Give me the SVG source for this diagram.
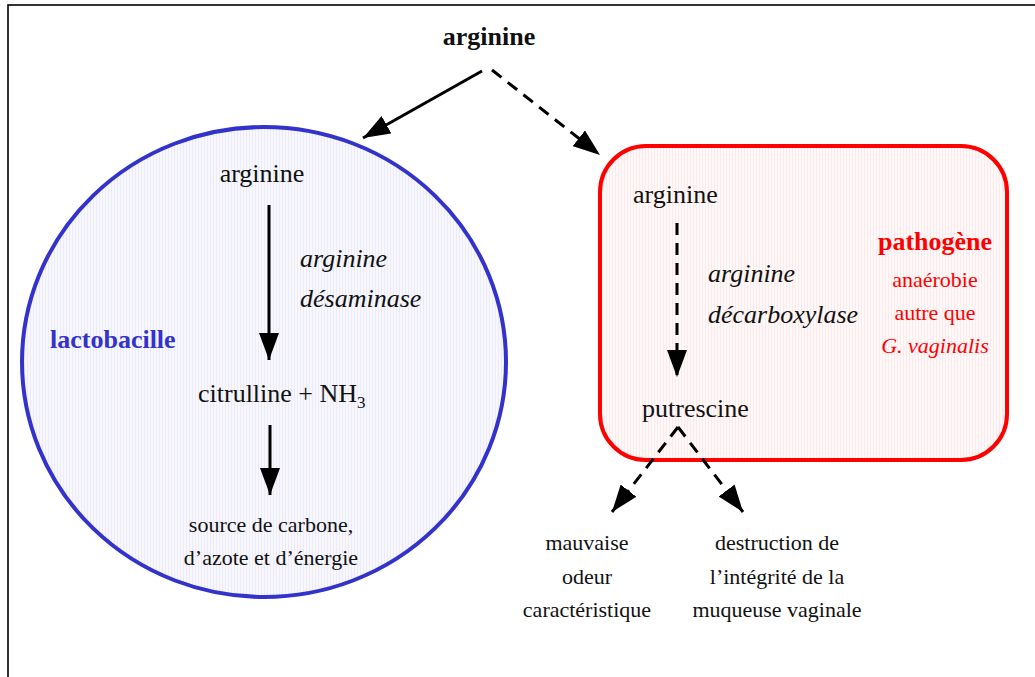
<svg xmlns="http://www.w3.org/2000/svg" width="1035" height="677" viewBox="0 0 1035 677">
  <style>
    text { font-family: "Liberation Serif", "Times New Roman", serif; fill: #111; }
    .t26 { font-size: 26px; }
    .t22 { font-size: 22px; }
    .it { font-style: italic; }
    .b { font-weight: bold; }
    .mid { text-anchor: middle; }
    .red { fill: #FF0000; }
    .blue { fill: #3333CC; }
    .solid { stroke: #000; stroke-width: 3; fill: none; }
    .dash { stroke: #000; stroke-width: 3; fill: none; stroke-dasharray: 12 8; }
  </style>
  <defs>
    <pattern id="stripeBlue" width="3" height="10" patternUnits="userSpaceOnUse">
      <rect width="3" height="10" fill="#F7F7FD"/>
      <rect width="1" height="10" fill="#ECECF8"/>
    </pattern>
    <pattern id="stripeRed" width="3" height="10" patternUnits="userSpaceOnUse">
      <rect width="3" height="10" fill="#FFF8F8"/>
      <rect width="1" height="10" fill="#FDEBEB"/>
    </pattern>
    <marker id="head" viewBox="0 0 27 20" refX="27" refY="10" markerWidth="27" markerHeight="20" markerUnits="userSpaceOnUse" orient="auto">
      <path d="M0,0 L27,10 L0,20 Z" fill="#000"/>
    </marker>
  </defs>

  <rect width="1035" height="677" fill="#fff"/>
  <!-- page frame -->
  <rect x="8" y="5" width="1040" height="690" fill="none" stroke="#000" stroke-width="1.6"/>

  <!-- lactobacillus pathway -->
  <g id="lactobacille">
    <ellipse cx="264" cy="362" rx="242" ry="235" fill="url(#stripeBlue)" stroke="#3333CC" stroke-width="4"/>
    <text class="t26 b blue" x="50" y="348">lactobacille</text>
  </g>

  <!-- pathogen pathway -->
  <g id="pathogene">
    <rect x="600" y="146" width="407" height="314" rx="46" ry="46" fill="url(#stripeRed)" stroke="#FF0000" stroke-width="4"/>
    <text class="t26 b red mid" x="935" y="250">pathogène</text>
    <text class="t22 red mid" x="935" y="287">anaérobie</text>
    <text class="t22 red mid" x="935" y="320">autre que</text>
    <text class="t22 red mid it" x="935" y="353">G. vaginalis</text>
  </g>

  <g id="arginine-top">
    <text class="t26 b mid" x="489" y="45">arginine</text>
  </g>

  <g id="arginine-lacto">
    <text class="t26 mid" x="262" y="182">arginine</text>
  </g>
  <g id="enzyme-lacto">
    <text class="t26 it" x="300" y="267">arginine</text>
    <text class="t26 it" x="300" y="307">désaminase</text>
  </g>
  <g id="citrulline">
    <text class="t26" x="198" y="402">citrulline + NH<tspan font-size="17" dy="6">3</tspan></text>
  </g>
  <g id="source">
    <text class="t22 mid" x="271" y="532">source de carbone,</text>
    <text class="t22 mid" x="271" y="565">d’azote et d’énergie</text>
  </g>

  <g id="arginine-patho">
    <text class="t26" x="633" y="203">arginine</text>
  </g>
  <g id="enzyme-patho">
    <text class="t26 it" x="708" y="282">arginine</text>
    <text class="t26 it" x="708" y="323">décarboxylase</text>
  </g>
  <g id="putrescine">
    <text class="t26" x="642" y="417">putrescine</text>
  </g>

  <g id="odeur">
    <text class="t22 mid" x="587" y="550">mauvaise</text>
    <text class="t22 mid" x="587" y="584">odeur</text>
    <text class="t22 mid" x="587" y="617">caractéristique</text>
  </g>
  <g id="muqueuse">
    <text class="t22 mid" x="777" y="550">destruction de</text>
    <text class="t22 mid" x="777" y="584">l’intégrité de la</text>
    <text class="t22 mid" x="777" y="617">muqueuse vaginale</text>
  </g>

  <!-- connectors -->
  <g id="connectors">
    <line class="solid" x1="482" y1="71" x2="363" y2="138" marker-end="url(#head)"/>
    <line class="dash" x1="492" y1="70" x2="600" y2="155" marker-end="url(#head)"/>
    <line class="solid" x1="269" y1="205" x2="269" y2="360" marker-end="url(#head)"/>
    <line class="solid" x1="270" y1="425" x2="270" y2="495" marker-end="url(#head)"/>
    <line class="dash" x1="677" y1="223" x2="677" y2="377" marker-end="url(#head)"/>
    <line class="dash" x1="678" y1="427" x2="612" y2="512" marker-end="url(#head)"/>
    <line class="dash" x1="678" y1="427" x2="743" y2="512" marker-end="url(#head)"/>
  </g>
</svg>
